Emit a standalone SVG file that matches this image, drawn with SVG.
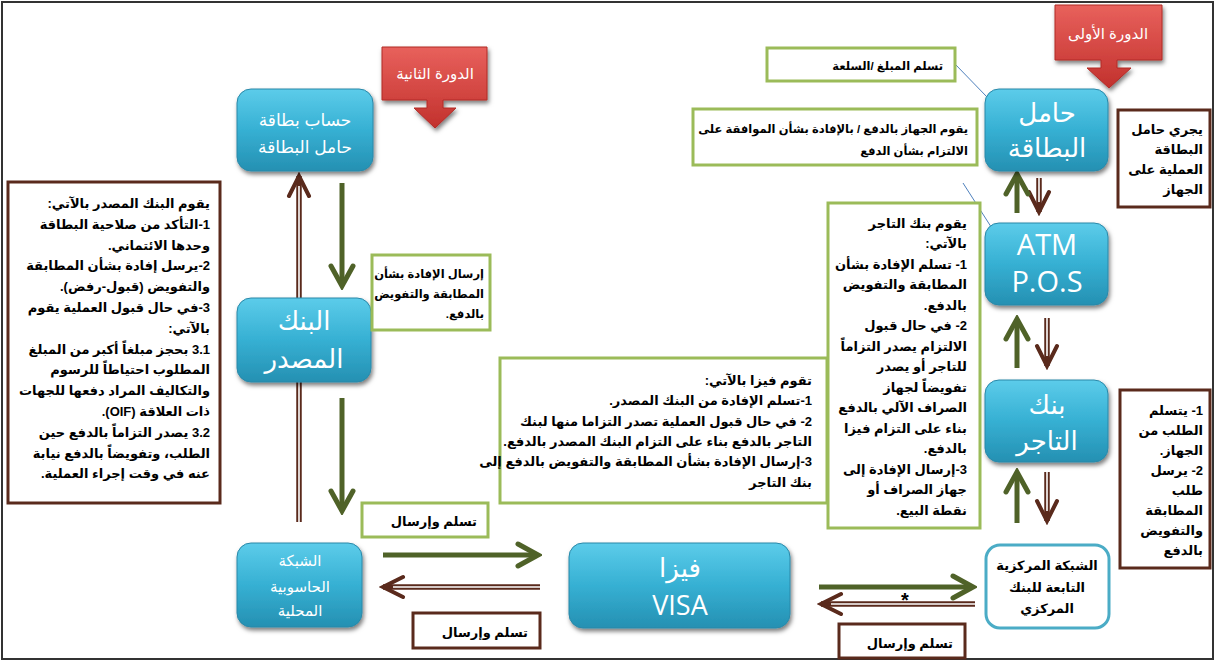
<svg xmlns="http://www.w3.org/2000/svg" width="1217" height="662" viewBox="0 0 1217 662">
<style>
.ar{font-family:"Liberation Sans","DejaVu Sans",sans-serif;font-weight:bold;font-size:13px;fill:#000;direction:rtl;text-anchor:start;}
.sm{font-size:11.5px;}
.nd{font-family:"Liberation Sans","DejaVu Sans",sans-serif;fill:#fff;direction:rtl;text-anchor:middle;}
.lat{font-family:"Open Sans","Liberation Sans",sans-serif;fill:#fff;text-anchor:middle;}
.gbox{fill:#fff;stroke:#9bbb59;stroke-width:3;}
.bbox{fill:#fff;stroke:#5a2a1c;stroke-width:3;}
.blue{fill:url(#blueGrad);stroke:#2a88a8;stroke-width:1;filter:url(#shadow);}
.red{fill:url(#redGrad);stroke:#b02a26;stroke-width:1;filter:url(#shadow);}
.garr{fill:none;stroke:#4f6228;stroke-width:5;marker-end:url(#gHead);}
.barr{fill:none;stroke:#5a2a1c;stroke-width:5.5;marker-end:url(#bHead);}
.bin{fill:none;stroke:#fff;stroke-width:1.6;}
.thin{fill:none;stroke:#4f81bd;stroke-width:1;}
</style>
<defs>
<linearGradient id="blueGrad" x1="0" y1="0" x2="0" y2="1">
<stop offset="0" stop-color="#5cccea"/>
<stop offset="0.5" stop-color="#36b0d3"/>
<stop offset="1" stop-color="#2590b2"/>
</linearGradient>
<linearGradient id="redGrad" x1="0" y1="0" x2="0" y2="1">
<stop offset="0" stop-color="#e8615c"/>
<stop offset="1" stop-color="#c2312d"/>
</linearGradient>
<filter id="shadow" x="-10%" y="-10%" width="125%" height="130%">
<feDropShadow dx="1.5" dy="3" stdDeviation="2" flood-color="#000" flood-opacity="0.5"/>
</filter>
<marker id="gHead" markerUnits="userSpaceOnUse" viewBox="0 0 30 30" markerWidth="30" markerHeight="30" refX="26" refY="15" orient="auto">
<path d="M6,4 L26,15 L6,26" fill="none" stroke="#4f6228" stroke-width="5" stroke-linecap="round" stroke-linejoin="miter"/>
</marker>
<marker id="bHead" markerUnits="userSpaceOnUse" viewBox="0 0 30 30" markerWidth="30" markerHeight="30" refX="26" refY="15" orient="auto">
<path d="M6,5 L26,15 L6,25" fill="none" stroke="#5a2a1c" stroke-width="4" stroke-linecap="round" stroke-linejoin="miter"/>
</marker>
</defs>

<rect x="2" y="2" width="1211" height="657" fill="#fff" stroke="#333" stroke-width="2"/>

<g id="connectors">
<path class="barr" d="M299,522 V176"/>
<path class="bin" d="M299,522 V186"/>
<path class="barr" d="M540,587 H383"/>
<path class="bin" d="M540,587 H393"/>
<path class="barr" d="M975,604 H821"/>
<path class="bin" d="M975,604 H831"/>
<path class="barr" d="M1039,178 V212"/>
<path class="bin" d="M1039,178 V202"/>
<path class="barr" d="M1047,318 V366"/>
<path class="bin" d="M1047,318 V356"/>
<path class="barr" d="M1047,472 V521"/>
<path class="bin" d="M1047,472 V511"/>
<path class="garr" d="M342,183 V286"/>
<path class="garr" d="M342,398 V511"/>
<path class="garr" d="M383,555 H538"/>
<path class="garr" d="M819,587 H973"/>
<path class="garr" d="M1017,213 V174"/>
<path class="garr" d="M1017,368 V319"/>
<path class="garr" d="M1017,523 V472"/>
<path class="thin" d="M955,64 L987,97"/>
<path class="thin" d="M963,183 L995,233"/>
<text x="905" y="607" style="font-family:'Liberation Sans',sans-serif;font-size:20px;font-weight:bold;fill:#000;text-anchor:middle">*</text>
</g>

<g id="cycle2">
<path class="red" d="M382,47 H487 V100 H443 V108 H456 L435,128 L414,108 H427 V100 H382 Z"/>
<text class="nd" x="435" y="79" font-size="15">الدورة الثانية</text>
</g>
<g id="cycle1">
<path class="red" d="M1055,5 H1162 V60 H1117 V68 H1131 L1109,88 L1087,68 H1101 V60 H1055 Z"/>
<text class="nd" x="1108" y="39" font-size="15">الدورة الأولى</text>
</g>

<g id="node-account">
<rect class="blue" x="237" y="89" width="136" height="82" rx="14"/>
<text class="nd" x="305" y="126" font-size="17">حساب بطاقة</text>
<text class="nd" x="305" y="153" font-size="17">حامل البطاقة</text>
</g>
<g id="node-issuer">
<rect class="blue" x="237" y="298" width="134" height="84" rx="14"/>
<text class="nd" x="304" y="330" font-size="26">البنك</text>
<text class="nd" x="304" y="368" font-size="26">المصدر</text>
</g>
<g id="node-localnet">
<rect class="blue" x="237" y="543" width="125" height="84" rx="14"/>
<text class="nd" x="300" y="566" font-size="15">الشبكة</text>
<text class="nd" x="300" y="592" font-size="15">الحاسوبية</text>
<text class="nd" x="300" y="616" font-size="15">المحلية</text>
</g>
<g id="node-visa">
<rect class="blue" x="569" y="543" width="221" height="85" rx="14"/>
<text class="nd" x="680" y="577" font-size="26">فيزا</text>
<text class="lat" x="680" y="615" font-size="27">VISA</text>
</g>
<g id="node-cardholder">
<rect class="blue" x="985" y="89" width="123" height="82" rx="14"/>
<text class="nd" x="1047" y="122" font-size="26">حامل</text>
<text class="nd" x="1047" y="157" font-size="26">البطاقة</text>
</g>
<g id="node-atm">
<rect class="blue" x="985" y="223" width="123" height="82" rx="14"/>
<text class="lat" x="1047" y="255" font-size="29">ATM</text>
<text class="lat" x="1047" y="292" font-size="29">P.O.S</text>
</g>
<g id="node-merchant">
<rect class="blue" x="985" y="380" width="123" height="82" rx="14"/>
<text class="nd" x="1047" y="414" font-size="26">بنك</text>
<text class="nd" x="1047" y="450" font-size="26">التاجر</text>
</g>
<g id="node-central">
<rect x="986" y="545" width="123" height="83" rx="14" fill="#fff" stroke="#4bacc6" stroke-width="3"/>
<text class="ar" x="1047" y="570" font-size="12" style="text-anchor:middle">الشبكة المركزية</text>
<text class="ar" x="1047" y="592" font-size="12" style="text-anchor:middle">التابعة للبنك</text>
<text class="ar" x="1047" y="613" font-size="12" style="text-anchor:middle">المركزي</text>
</g>

<g id="box-issuer-tasks">
<rect class="bbox" x="8" y="182" width="212" height="321"/>
<text class="ar" x="210" y="208">يقوم البنك المصدر بالآتي:</text>
<text class="ar" x="210" y="229">1-التأكد من صلاحية البطاقة</text>
<text class="ar" x="210" y="250">وحدها الائتماني.</text>
<text class="ar" x="210" y="270">2-يرسل إفادة بشأن المطابقة</text>
<text class="ar" x="210" y="291">والتفويض (قبول-رفض).</text>
<text class="ar" x="210" y="312">3-في حال قبول العملية يقوم</text>
<text class="ar" x="210" y="333">بالآتي:</text>
<text class="ar" x="210" y="354">3.1 بحجز مبلغاً أكبر من المبلغ</text>
<text class="ar" x="210" y="374">المطلوب احتياطاً للرسوم</text>
<text class="ar" x="210" y="395">والتكاليف المراد دفعها للجهات</text>
<text class="ar" x="210" y="416">ذات العلاقة (OIF).</text>
<text class="ar" x="210" y="437">3.2 يصدر التزاماً بالدفع حين</text>
<text class="ar" x="210" y="458">الطلب، وتفويضاً بالدفع نيابة</text>
<text class="ar" x="210" y="478">عنه في وقت إجراء العملية.</text>
</g>

<g id="box-send-auth">
<rect class="gbox" x="372" y="255" width="118" height="75"/>
<text class="ar sm" x="484" y="278">إرسال الإفادة بشأن</text>
<text class="ar sm" x="484" y="298">المطابقة والتفويض</text>
<text class="ar sm" x="484" y="318">بالدفع.</text>
</g>

<g id="box-visa-tasks">
<rect class="gbox" x="500" y="358" width="327" height="145"/>
<text class="ar" x="812" y="385">تقوم فيزا بالآتي:</text>
<text class="ar" x="812" y="405">1-تسلم الإفادة من البنك المصدر.</text>
<text class="ar" x="812" y="426">2- في حال قبول العملية تصدر التزاما منها لبنك</text>
<text class="ar" x="812" y="446">التاجر بالدفع بناء على التزام البنك المصدر بالدفع.</text>
<text class="ar" x="812" y="466">3-إرسال الإفادة بشأن المطابقة والتفويض بالدفع إلى</text>
<text class="ar" x="812" y="487">بنك التاجر</text>
</g>

<g id="box-receive-goods">
<rect class="gbox" x="767" y="48" width="188" height="33"/>
<text class="ar sm" x="943" y="70">تسلم المبلغ /السلعة</text>
</g>

<g id="box-device">
<rect class="gbox" x="693" y="109" width="284" height="56"/>
<text class="ar sm" x="968" y="133">يقوم الجهاز بالدفع / بالإفادة بشأن الموافقة على</text>
<text class="ar sm" x="968" y="155">الالتزام بشأن الدفع</text>
</g>

<g id="box-merchant-tasks">
<rect class="gbox" x="828" y="203" width="152" height="325"/>
<text class="ar" x="967" y="228">يقوم بنك التاجر</text>
<text class="ar" x="967" y="248">بالآتي:</text>
<text class="ar" x="967" y="269">1- تسلم الإفادة بشأن</text>
<text class="ar" x="967" y="289">المطابقة والتفويض</text>
<text class="ar" x="967" y="310">بالدفع.</text>
<text class="ar" x="967" y="330">2- في حال قبول</text>
<text class="ar" x="967" y="351">الالتزام يصدر التزاماً</text>
<text class="ar" x="967" y="371">للتاجر أو يصدر</text>
<text class="ar" x="967" y="392">تفويضاً لجهاز</text>
<text class="ar" x="967" y="412">الصراف الآلي بالدفع</text>
<text class="ar" x="967" y="433">بناء على التزام فيزا</text>
<text class="ar" x="967" y="453">بالدفع.</text>
<text class="ar" x="967" y="474">3-إرسال الإفادة إلى</text>
<text class="ar" x="967" y="494">جهاز الصراف أو</text>
<text class="ar" x="967" y="515">نقطة البيع.</text>
</g>

<g id="box-cardholder-action">
<rect class="bbox" x="1118" y="110" width="92" height="97"/>
<text class="ar" x="1203" y="134" font-size="12.5">يجري حامل</text>
<text class="ar" x="1203" y="154" font-size="12.5">البطاقة</text>
<text class="ar" x="1203" y="174" font-size="12.5">العملية على</text>
<text class="ar" x="1203" y="194" font-size="12.5">الجهاز</text>
</g>

<g id="box-merchant-receive">
<rect class="bbox" x="1120" y="390" width="90" height="178"/>
<text class="ar" x="1203" y="415">1- يتسلم</text>
<text class="ar" x="1203" y="435">الطلب من</text>
<text class="ar" x="1203" y="455">الجهاز.</text>
<text class="ar" x="1203" y="475">2- يرسل</text>
<text class="ar" x="1203" y="495">طلب</text>
<text class="ar" x="1203" y="515">المطابقة</text>
<text class="ar" x="1203" y="535">والتفويض</text>
<text class="ar" x="1203" y="555">بالدفع</text>
</g>

<g id="box-sr1">
<rect class="gbox" x="362" y="503" width="126" height="34"/>
<text class="ar" x="477" y="526">تسلم وإرسال</text>
</g>
<g id="box-sr2">
<rect class="bbox" x="413" y="613" width="127" height="35"/>
<text class="ar" x="528" y="637">تسلم وإرسال</text>
</g>
<g id="box-sr3">
<rect class="bbox" x="839" y="624" width="126" height="34"/>
<text class="ar" x="953" y="648">تسلم وإرسال</text>
</g>
</svg>
